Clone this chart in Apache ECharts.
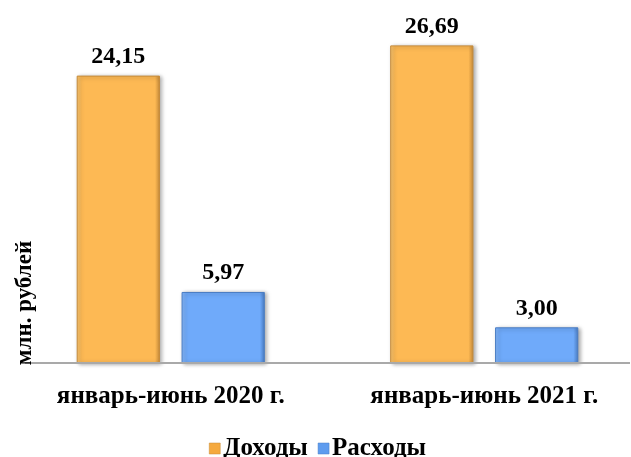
<!DOCTYPE html>
<html><head><meta charset="utf-8">
<script src="https://cdn.jsdelivr.net/npm/echarts@6/dist/echarts.min.js"></script>
<style>html,body{margin:0;padding:0;background:#fff;overflow:hidden;width:631px;height:457px}#c{width:645px;height:457px}</style>
</head><body><div id="c"></div>
<script>
const categories = ['январь-июнь 2020 г.', 'январь-июнь 2021 г.'];
const seriesNames = ['Доходы', 'Расходы'];
const incomeValues = [24.15, 26.69];
const expenseValues = [5.97, 3.00];
const yAxisTitle = 'млн. рублей';

const FONT = '"Liberation Serif","Times New Roman",serif';
const chart = echarts.init(document.getElementById('c'));
function fmt(v){ return v.toFixed(2).replace('.', ','); }
function barStyle(c1, c2, border){
  return {
    color: new echarts.graphic.LinearGradient(0,0,1,0,[
      {offset:0,color:c2},{offset:0.06,color:c1},{offset:0.94,color:c1},{offset:1,color:border}
    ]),
    borderColor: border, borderWidth: 1,
    shadowColor: 'rgba(0,0,0,0.35)', shadowBlur: 4, shadowOffsetX: 2, shadowOffsetY: 1
  };
}
const labelStyle = { show: true, position: 'top', distance: 7, formatter: p => fmt(p.value), color: '#000', fontFamily: FONT, fontWeight: 'bold', fontSize: 24 };
chart.setOption({
  animation: false,
  grid: { left: 14, width: 627, top: 6, bottom: 94, containLabel: false },
  xAxis: {
    type: 'category', data: categories,
    axisLine: { show: false }, axisTick: { show: false },
    axisLabel: { color: '#000', fontFamily: FONT, fontWeight: 'bold', fontSize: 25, margin: 21 }
  },
  yAxis: { type: 'value', min: 0, max: 30, show: false },
  legend: {
    top: 431, left: 204, itemWidth: 11, itemHeight: 11, itemGap: 10,
    textStyle: { color: '#000', fontFamily: FONT, fontWeight: 'bold', fontSize: 25, padding: [0,0,0,-2] },
    data: [
      { name: seriesNames[0], icon: 'rect', itemStyle: { color: '#F5A93E', borderColor: '#C68B3A', borderWidth: 0.5, shadowBlur: 0 } },
      { name: seriesNames[1], icon: 'rect', itemStyle: { color: '#5E9CEF', borderColor: '#4A7DC4', borderWidth: 0.5, shadowBlur: 0 } }
    ]
  },
  series: [
    { name: seriesNames[0], type: 'bar', data: incomeValues, barGap: '26%', barCategoryGap: '40%',
      itemStyle: barStyle('#FDB954', '#F8C46F', '#C68B3A'), label: labelStyle },
    { name: seriesNames[1], type: 'bar', data: expenseValues,
      itemStyle: barStyle('#6FAAFA', '#86B8FA', '#4A7DC4'), label: labelStyle }
  ],
  graphic: [
    { type: 'line', z: 10, shape: { x1: 25, y1: 363, x2: 630, y2: 363 }, style: { stroke: '#A9A9A9', lineWidth: 2 } },
    { type: 'text', z: 20, x: 25, y: 303, rotation: Math.PI/2,
      style: { text: yAxisTitle, fill: '#000', font: 'bold 23px ' + FONT, align: 'center', verticalAlign: 'middle' } }
  ]
});
</script></body></html>
